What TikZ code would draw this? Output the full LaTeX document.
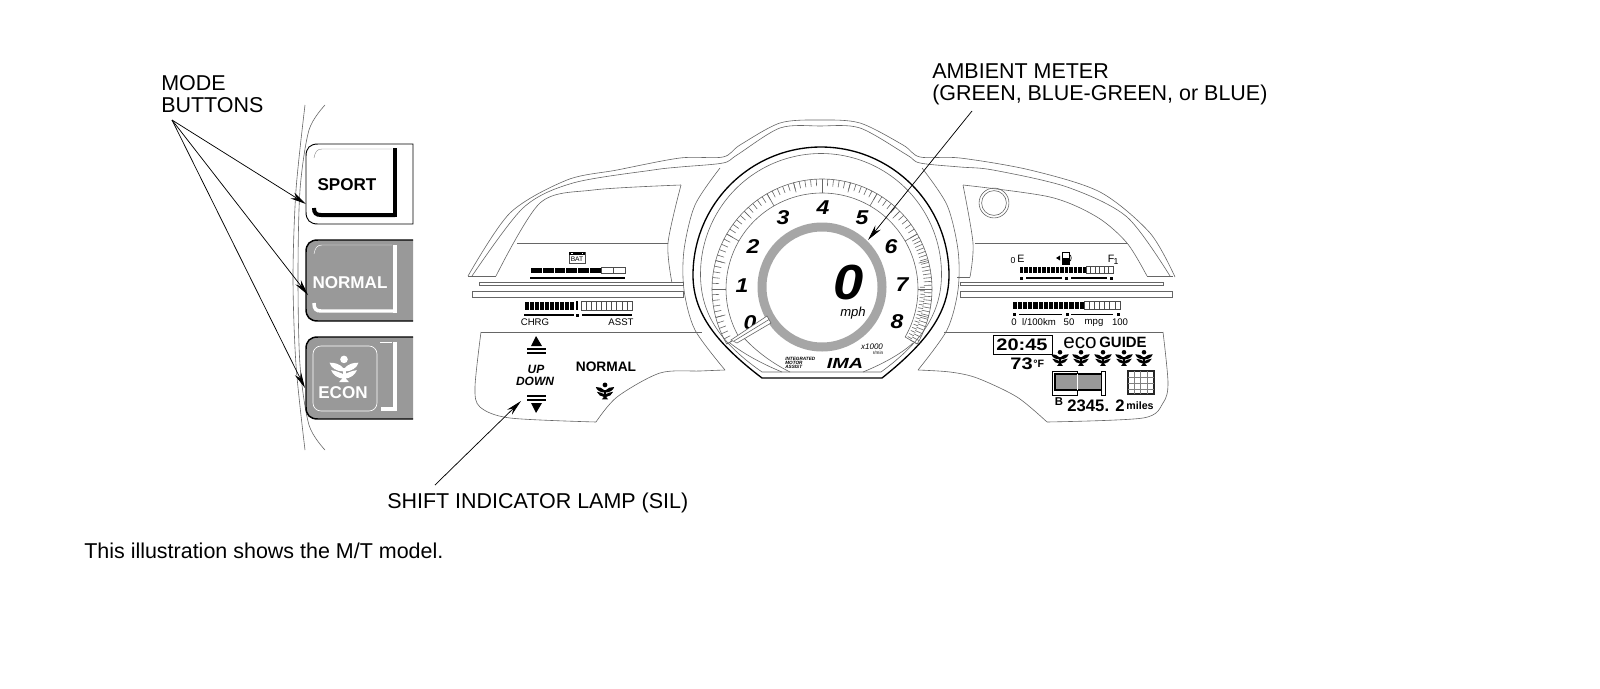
\documentclass[tikz,border=0pt]{standalone}
\usepackage{fontspec}
\usepackage{graphicx}
\setmainfont{Liberation Sans}
\usetikzlibrary{arrows.meta}
\definecolor{btngray}{HTML}{999999}
\definecolor{ringgray}{HTML}{A6A6A6}
\newcommand\fsz[1]{\fontsize{#1}{#1}\selectfont}
\newcommand\cellbar[6]{%
  \pgfmathsetmacro\cwd{(#2-#1)/#5}%
  \foreach \i in {1,...,#5}{%
    \pgfmathsetmacro\cxa{#1+(\i-1)*\cwd}%
    \pgfmathsetmacro\cxb{\cxa+\cwd}%
    \ifnum\i>#6\relax
      \draw[cellw] (\cxa,#3) rectangle (\cxb,#4);
    \else
      \draw[cellb] (\cxa,#3) rectangle (\cxb,#4);
    \fi}}
\newcommand\dialarc[4]{\draw[thinl] plot[domain=#2:#3,samples=#4] ({822+#1*cos(\x)},{289-#1*sin(\x)});}
% button outline path: top y, bottom y
\newcommand\btnpath[2]{(413,#1) -- (318,#1) .. controls (310,#1) and (306,#1+4) .. (306,#1+12) -- (306,#2-12) .. controls (306,#2-4) and (310,#2) .. (318,#2) -- (413,#2)}
\tikzset{
  x=0.75pt,y=-0.75pt,
  thinl/.style={line width=0.45pt,black!60},
  label/.style={inner sep=0pt,font=\fsz{16.1},align=left,anchor=west},
  lead/.style={line width=0.55pt,-{Stealth[length=12pt,width=5.2pt]}},
  btnw/.style={inner sep=0pt,font=\bfseries\fsz{12.8},white},
  btnk/.style={inner sep=0pt,font=\bfseries\fsz{12.8}},
  small/.style={inner sep=0pt,font=\fsz{7.2}},
  dig/.style={inner sep=0pt,font=\bfseries\itshape\fsz{15}},
  cellb/.style={fill=black,draw=white,line width=0.25pt},
  cellw/.style={fill=white,draw=black!70,line width=0.35pt},
  pics/ecoleaf/.style={code={
    \fill[#1] (0,-6.4) circle (1.9pt);
    \foreach \s in {1,-1}{
      \fill[#1,xscale=\s] (-0.6,-0.8) .. controls (-3,-3.4) and (-6,-4.2) .. (-9.6,-4.2) .. controls (-8.8,-0.8) and (-5,1.6) .. (-0.6,1.6) -- cycle;
      \fill[#1,xscale=\s] (-0.6,3.4) .. controls (-3,2.2) and (-6,1) .. (-8.6,0.8) .. controls (-7.4,4) and (-4,6.2) .. (-0.6,6.4) -- cycle;
    }
    \fill[#1] (-1,-1) rectangle (1,7);
    \fill[#1] (-3.4,8.8) -- (0,5) -- (3.4,8.8) -- cycle;
  }}
}
\begin{document}
\begin{tikzpicture}
\useasboundingbox (0,0) rectangle (1600,689);
\fill[white] (0,0) rectangle (1600,689);

% ---- mode button panel arcs
\draw[thinl] plot[smooth] coordinates {(305,105) (296,190) (293,277) (296,365) (305,450)};
\draw[thinl] plot[smooth] coordinates {(325,105) (309,130) (300,190) (298,277) (300,365) (309,425) (325,450)};

% ---- buttons
\draw[line width=0.7pt,fill=white] \btnpath{144}{224} -- cycle;
\draw[line width=0.3pt,black!45] (392,149) -- (322,149) .. controls (317,149) and (315,152) .. (314,158);
\fill[black] (393,148) rectangle (397,217);
\draw[line width=3pt] (395,215) -- (321,215) .. controls (316,215) and (314,213) .. (314,208);
\node[btnk] (sport) at (347,185) {SPORT};

\fill[btngray] \btnpath{240}{321} -- cycle;
\draw[line width=1.1pt] \btnpath{240}{321};
\draw[line width=0.35pt,white] (392,245) -- (322,245) .. controls (317,245) and (315,248) .. (314,254);
\fill[white] (393,245) rectangle (397,313);
\draw[line width=2.6pt,white] (395,311) -- (321,311) .. controls (316,311) and (314,309) .. (314,303);
\node[btnw] (normalbtn) at (350,283) {NORMAL};

\fill[btngray] \btnpath{337}{419} -- cycle;
\draw[line width=1.1pt] \btnpath{337}{419};
\draw[line width=0.35pt,white] (380,342) -- (392,342);
\fill[white] (393,342) rectangle (397,411);
\fill[white] (381,407) rectangle (397,411);
\draw[line width=0.5pt,white,rounded corners=6pt] (313,346) rectangle (377,411);
\pic[scale=1.5] at (344,369) {ecoleaf=white};
\node[btnw] (econ) at (343,393) {ECON};

% ---- outer shell
\draw[thinl] plot[smooth] coordinates {(468,276) (510,213) (567,180) (617,170) (680,158) (723,157) (740,145) (780,123) (820,120) (860,123) (903,145) (920,157) (960,158) (1030,170) (1100,192) (1150,233) (1175,277)};
\draw[thinl] plot[smooth] coordinates {(472,276) (523,208) (573,183) (653,170) (680,167) (723,163) (737,155) (780,128) (820,126) (860,128) (907,155) (920,163) (960,167) (993,170) (1067,187) (1127,217) (1170,276)};
% left window
\draw[thinl] (468,276) -- (496,276);
\draw[thinl] plot[smooth] coordinates {(496,276) (540,203) (593,190) (681,185)};
\draw[thinl] plot[smooth] coordinates {(681,185) (668,243) (672,283)};
\draw[thinl] (517,243) -- (668,243);
% right window
\draw[thinl] (1147,276) -- (1173,276);
\draw[thinl] plot[smooth] coordinates {(963,185) (1050,197) (1097,217) (1127,243) (1147,276)};
\draw[thinl] plot[smooth] coordinates {(963,185) (973,243) (970,277)};
\draw[thinl] (957,277) -- (970,277);
\draw[thinl] (975,243) -- (1127,243);
\draw[thinl] (994,203) circle (11.2pt);
\draw[thinl] (994,203) circle (9.3pt);
% bars
\draw[thinl,fill=white] (479,282) rectangle (683,285);
\draw[thinl,fill=white] (472,291) rectangle (683,297);
\draw[thinl,fill=white] (960,282) rectangle (1163,285);
\draw[thinl,fill=white] (960,291) rectangle (1172,297);
% gauge side arcs
\draw[thinl] plot[smooth] coordinates {(720,168) (695,205) (684,250) (684,290) (695,330) (725,370)};
\draw[thinl] plot[smooth] coordinates {(922,168) (947,205) (958,250) (958,290) (947,330) (918,370)};
% lower panels
\draw[thinl] (481,332) -- (702,332);
\draw[thinl] plot[smooth] coordinates {(481,332) (475,387) (480,407) (510,418) (596,422)};
\draw[thinl] plot[smooth] coordinates {(596,422) (617,397) (660,373) (700,371) (725,370)};
\draw[thinl] (944,332) -- (1163,332);
\draw[thinl] plot[smooth] coordinates {(1163,332) (1168,383) (1163,403) (1143,418) (1047,422)};
\draw[thinl] plot[smooth] coordinates {(1047,422) (1017,397) (977,378) (950,372) (918,370)};

% ---- gauge
\draw[thinl] plot[domain=180:0,samples=90] ({821+120.5*cos(\x)},{274-120.5*sin(\x)}) .. controls (941.5,310) and (925,340) .. (881,372) -- (762,372) .. controls (716,340) and (700.5,310) .. (700.5,274);
\draw[line width=1pt] plot[domain=180:0,samples=90] ({821+128*cos(\x)},{275-128*sin(\x)}) .. controls (949,310) and (930,340) .. (882,378) -- (762,378) .. controls (712,340) and (693,310) .. (693,275);
\dialarc{110}{210}{-30}{90}
\dialarc{96}{210}{-30}{90}
\draw[thinl] (730,343) .. controls (745,355) and (765,365) .. (782,372);
\draw[thinl] (743,337) .. controls (755,350) and (770,362) .. (790,372);
\draw[thinl] (913,343) .. controls (900,355) and (880,365) .. (863,372);
\foreach \a in {210,207,...,33}{\draw[thinl] ({822+110*cos(\a)},{289-110*sin(\a)}) -- ({822+103*cos(\a)},{289-103*sin(\a)});}
\foreach \a in {30,28,...,-30}{\draw[thinl] ({822+110*cos(\a)},{289-110*sin(\a)}) -- ({822+102*cos(\a)},{289-102*sin(\a)});}
\foreach \a in {1,-1,...,-29}{\draw[thinl] ({822+103*cos(\a)},{289-103*sin(\a)}) -- ({822+98*cos(\a)},{289-98*sin(\a)});}
\foreach \a in {195,165,135,105,75,45,15,-15}{\draw[thinl] ({822+110*cos(\a)},{289-110*sin(\a)}) -- ({822+100*cos(\a)},{289-100*sin(\a)});}
\foreach \a in {210,180,150,120,90,60,30,0,-30}{\draw[thinl] ({822+110*cos(\a)},{289-110*sin(\a)}) -- ({822+96*cos(\a)},{289-96*sin(\a)});}
\draw[line width=6.75pt,ringgray] (822,287) circle (45pt);
\node[dig] (d4) at (823,208) {\scalebox{1.15}[1]{4}};
\node[dig] (d3) at (783,218) {\scalebox{1.15}[1]{3}};
\node[dig] (d5) at (862,218) {\scalebox{1.15}[1]{5}};
\node[dig] (d2) at (753,247) {\scalebox{1.15}[1]{2}};
\node[dig] (d6) at (891,247) {\scalebox{1.15}[1]{6}};
\node[dig] (d1) at (742,286) {\scalebox{1.15}[1]{1}};
\node[dig] (d7) at (902,285) {\scalebox{1.15}[1]{7}};
\node[dig] (d0) at (750,323) {\scalebox{1.15}[1]{0}};
\node[dig] (d8) at (897,322) {\scalebox{1.15}[1]{8}};
\draw[thinl,fill=white] (731,340) -- (767,316) -- (771,323) -- (737,343) -- cycle;
\draw[thinl] (734,341) -- (769,319.5);
\node[inner sep=0pt,font=\bfseries\itshape\fsz{37}] (speed) at (849,283) {\scalebox{1.1}[1]{0}};
\node[inner sep=0pt,font=\itshape\fsz{9.8}] (mph) at (853,313) {mph};
\node[inner sep=0pt,font=\itshape\fsz{6}] (xk) at (872,347) {x1000};
\node[inner sep=0pt,font=\fsz{3.5}] (rmin) at (878,353) {r/min};
\node[inner sep=0pt,font=\bfseries\itshape\fsz{11}] (ima) at (845,363) {\scalebox{1.35}[1]{IMA}};
\node[inner sep=0pt,anchor=west,font=\bfseries\itshape\fsz{3.5}] (ima1) at (785,359) {INTEGRATED};
\node[inner sep=0pt,anchor=west,font=\bfseries\itshape\fsz{3.5}] (ima2) at (785,363) {MOTOR};
\node[inner sep=0pt,anchor=west,font=\bfseries\itshape\fsz{3.5}] (ima3) at (785,367) {ASSIST};

% ---- left displays
\draw[line width=0.35pt,black!70,fill=white] (569,252) rectangle (585,263);
\fill[black] (569,252) rectangle (585,255);
\fill[white] (571,252.7) rectangle (572.5,254);
\fill[white] (581.5,252.7) rectangle (583,254);
\node[inner sep=0pt,font=\fsz{5}] (bat) at (577,259.5) {BAT};
\cellbar{530}{625}{267}{273.5}{8}{6}
\draw[line width=1.1pt] (530,278) -- (625,278);
\cellbar{524}{574}{301}{310}{10}{10}
\fill (576,301) rectangle (578,310);
\cellbar{581}{632}{301}{310}{10}{0}
\draw[line width=0.8pt] (524,315) -- (574,315);
\draw[line width=0.8pt] (582,315) -- (632,315);
\fill (576,313.5) rectangle (579,316.5);
\node[small] (chrg) at (535,322) {CHRG};
\node[small] (asst) at (621,322) {ASST};
\fill (536,336) -- (542,346) -- (531,346) -- cycle;
\draw[line width=1.1pt] (527,349) -- (546,349);
\draw[line width=1.1pt] (527,353) -- (546,353);
\node[inner sep=0pt,font=\bfseries\itshape\fsz{9}] (up) at (536,369) {UP};
\node[inner sep=0pt,font=\bfseries\itshape\fsz{9}] (down) at (535,381) {DOWN};
\node[inner sep=0pt,font=\bfseries\fsz{10.3}] (normaltxt) at (606,367) {NORMAL};
\pic[scale=0.95] at (605,391) {ecoleaf=black};
\draw[line width=1.1pt] (527,396) -- (546,396);
\draw[line width=1.1pt] (527,400) -- (546,400);
\fill (531,403) -- (542,403) -- (536,413) -- cycle;

% ---- right displays
\node[inner sep=0pt,font=\fsz{6.5}] (e0) at (1013,261) {0};
\node[inner sep=0pt,font=\fsz{8}] (ee) at (1021,259) {E};
\node[inner sep=0pt,font=\fsz{8}] (ff) at (1111,259) {F};
\node[inner sep=0pt,font=\fsz{6.5}] (f1) at (1116,262) {1};
\fill (1056,258) -- (1060,255.5) -- (1060,260.5) -- cycle;
\draw[line width=0.5pt,fill=white] (1062,252) rectangle (1069,264);
\fill (1062,258) rectangle (1069,264);
\draw[line width=0.5pt] (1069,254) .. controls (1072,256) and (1072,260) .. (1069,262);
\cellbar{1019}{1113}{266}{273}{21}{15}
\fill (1019.5,276.5) rectangle (1022.5,279.5);
\fill (1064.5,276.5) rectangle (1067.5,279.5);
\fill (1109.5,276.5) rectangle (1112.5,279.5);
\draw[line width=0.8pt] (1026,278) -- (1062,278);
\draw[line width=0.8pt] (1071,278) -- (1107,278);
\cellbar{1012}{1120}{301}{309}{21}{14}
\fill (1012.5,312.5) rectangle (1015.5,315.5);
\fill (1065.5,312.5) rectangle (1068.5,315.5);
\fill (1116.5,312.5) rectangle (1119.5,315.5);
\draw[line width=0.6pt] (1019,314) -- (1062,314);
\draw[line width=0.6pt] (1071,314) -- (1113,314);
\node[small] (m0) at (1014,322) {0};
\node[small] (m1) at (1039,322.5) {l/100km};
\node[small] (m2) at (1069,322) {50};
\node[small] (m3) at (1094,323) {mpg};
\node[small] (m4) at (1120,322) {100};
\draw[line width=0.45pt] (993,335) rectangle (1052,354);
\node[inner sep=0pt,font=\bfseries\fsz{12.5}] (clock) at (1022,344.5) {\scalebox{1.2}[1]{20:45}};
\node[inner sep=0pt,font=\bfseries\fsz{12.5},anchor=east] (temp) at (1033,363.5) {\scalebox{1.2}[1]{73}};
\node[inner sep=0pt,font=\bfseries\fsz{8},anchor=west] (tempu) at (1033,364) {°F};
\node[inner sep=0pt,font=\fsz{15.5}] (eco) at (1080,343) {eco};
\node[inner sep=0pt,font=\bfseries\fsz{11.2}] (guide) at (1123,342) {GUIDE};
\foreach \x in {1060,1081,1103,1124,1144}{\pic[scale=0.9] at (\x,358) {ecoleaf=black};}
\draw[line width=0.7pt,fill=white] (1052,371) rectangle (1077,395);
\draw[line width=1.1pt,fill=btngray] (1055,374) rectangle (1103,390);
\draw[line width=0.4pt,white] (1077,374) -- (1077,390);
\draw[line width=0.7pt,fill=white] (1101,371) rectangle (1105,395);
\draw[line width=1.1pt,black!85,fill=white] (1128,371) rectangle (1154,394);
\foreach \x in {1134,1140,1147}{\draw[line width=0.3pt,black!50] (\x,371) -- (\x,394);}
\foreach \y in {377,383,389}{\draw[line width=0.3pt,black!50] (1128,\y) -- (1154,\y);}
\node[inner sep=0pt,font=\bfseries\fsz{8.5}] (bb) at (1059,402) {B};
\node[inner sep=0pt,font=\bfseries\fsz{12.5}] (odo) at (1096,406) {2345. 2};
\node[inner sep=0pt,font=\bfseries\fsz{8}] (miles) at (1140,406) {miles};

% ---- callouts
\node[label,anchor=north west] (modebtn) at (161,75.5) {MODE\\BUTTONS};
\node[label,anchor=north west] (ambient) at (932,63.5) {AMBIENT METER\\(GREEN, BLUE-GREEN, or BLUE)};
\node[label] (sil) at (387,503) {SHIFT INDICATOR LAMP (SIL)};
\node[label] (note) at (84,550.5) {This illustration shows the M/T model.};
\coordinate (modeorg) at (172,120);
\coordinate (tsport) at (306,204);
\coordinate (tnormal) at (308,295);
\coordinate (tecon) at (305,388);
\coordinate (ambstart) at (972,111);
\coordinate (tamb) at (868,240);
\coordinate (silstart) at (435,485);
\coordinate (tsil) at (521,401);
\draw[lead] (modeorg) -- (tsport);
\draw[lead] (modeorg) -- (tnormal);
\draw[lead] (modeorg) -- (tecon);
\draw[lead] (ambstart) -- (tamb);
\draw[lead] (silstart) -- (tsil);
\end{tikzpicture}
\end{document}
